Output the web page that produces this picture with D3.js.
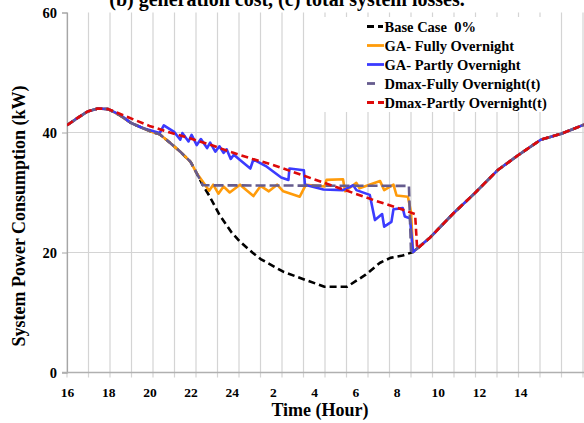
<!DOCTYPE html>
<html>
<head>
<meta charset="utf-8">
<script src="https://cdn.jsdelivr.net/npm/d3@7"></script>
<style>
  body { margin: 0; background: #fff; }
</style>
</head>
<body>
<svg id="chart" width="584" height="423"></svg>
<script>
const svg = d3.select("#chart");
const serif = '"Liberation Serif", "Times New Roman", serif';

// hour of day (16 .. 41 = 16h to 17h next day), kW
const commonStart = [[16, 41.2], [16.5, 42.4], [17, 43.5], [17.5, 44], [18, 43.9]];
const sharedDrop = [[18.5, 43.0], [19.1, 41.6], [19.7, 40.7], [20.2, 40.0], [20.5, 39.7],
  [21, 38.3], [21.5, 36.8], [22, 35.1], [22.3, 33.2]];
const commonEnd = [[32.8, 20.1], [33.6, 22.4], [34.75, 26.5], [35.8, 29.9], [36.9, 33.7],
  [37.9, 36.2], [39, 38.8], [40, 39.8], [41.1, 41.3]];

const baseCase = [[22.6, 31.2], [22.9, 29.5], [23.4, 26.3], [24, 23.3], [24.4, 21.8], [25, 20],
  [25.4, 18.9], [26.5, 16.8], [27.6, 15.4], [28.5, 14.3], [29.6, 14.3], [30.5, 16.3],
  [31.2, 18.3], [31.7, 19.1], [32.3, 19.5]];
const gaFully = [[22.7, 31.3], [22.9, 30.3], [23.1, 31.3], [23.35, 29.8], [23.6, 31], [23.9, 30],
  [24.4, 31.3], [24.7, 30.4], [25.05, 29.4], [25.4, 31.1], [25.8, 30.2], [26.2, 31.3],
  [26.5, 30.2], [27.3, 29.3], [27.6, 31.3], [28.5, 31.0], [28.6, 32.1], [29.4, 32.2],
  [29.5, 30.2], [30.05, 31.6], [30.2, 30.7], [31.2, 31.9], [31.4, 30.4], [31.85, 31.3],
  [32.0, 29.5], [32.55, 29.3], [32.7, 26.8]];
const gaPartly = [[18.6, 42.9], [19.1, 41.6], [19.7, 40.7], [20.5, 39.9], [20.7, 41.2], [21.2, 40.1],
  [21.5, 38.8], [21.6, 39.9], [21.9, 38.5], [22.05, 39.6], [22.3, 37.9], [22.5, 38.9],
  [22.8, 37.4], [22.95, 38.3], [23.2, 36.8], [23.4, 37.7], [23.6, 36.6], [23.75, 37.2],
  [23.95, 35.6], [24.1, 36.3], [24.4, 35.4], [24.9, 34.0], [25.05, 35.5], [25.7, 34.3],
  [26.4, 32.5], [26.75, 32.1], [26.8, 34.0], [27.5, 33.7], [27.55, 31.3], [28.45, 30.5],
  [29.4, 30.4], [29.9, 31.2], [30.05, 30.4], [30.7, 29.6], [30.95, 25.4], [31.3, 26.4],
  [31.4, 24.3], [31.75, 25.1], [31.85, 27.2], [32.3, 27.4], [32.4, 26.0], [32.65, 25.7]];
const dmaxFully = [[22.6, 31.2], [32.6, 31.1], [32.7, 20.3]];
const dmaxPartly = [[18.5, 43.2], [19, 42.5], [20, 41.1], [21, 40], [22, 39], [23, 37.9],
  [24, 36.7], [25, 35.6], [26, 34.6], [27, 33.4], [28, 32.2], [29, 31], [30, 29.8],
  [31, 28.6], [32, 27.5], [32.9, 26.4], [33, 20.6]];

const xTicks = [16, 18, 20, 22, 24, 26, 28, 30, 32, 34, 36, 38];
const yTicks = [0, 20, 40, 60];
const gridCount = 24;

const series = [
  { name: "Base Case  0%", color: "#000000", dash: "7,4", sample: [0, 16],
    values: commonStart.concat(sharedDrop, baseCase, commonEnd) },
  { name: "GA- Fully Overnight", color: "#ff9b0a", dash: null, sample: [0, 17],
    values: commonStart.concat(sharedDrop, gaFully, commonEnd) },
  { name: "GA- Partly Overnight", color: "#3b3bff", dash: null, sample: [0, 17],
    values: commonStart.concat(gaPartly, commonEnd) },
  { name: "Dmax-Fully Overnight(t)", color: "#665c8e", dash: "10,4", sample: [0, 8],
    values: commonStart.concat(sharedDrop, dmaxFully, commonEnd) },
  { name: "Dmax-Partly Overnight(t)", color: "#dd0a0a", dash: "7,4", sample: [0, 17],
    values: commonStart.concat(dmaxPartly, commonEnd.slice(1)) }
];

const plotLeft = 67, plotRight = 584, plotTop = 12.5, plotBottom = 372.5;

const x = d3.scaleLinear().domain([16, 41.1]).range([plotLeft, plotRight]);
const y = d3.scaleLinear().domain([0, 60]).range([plotBottom, plotTop]);
const grid = d3.scaleLinear().domain([0, gridCount]).range([plotLeft, 583]);

// title (cut at the top in the source)
svg.append("text")
  .attr("x", 287).attr("y", 6)
  .attr("text-anchor", "middle")
  .style("font-family", serif).style("font-weight", "bold")
  .style("font-size", "20px")
  .text("(b) generation cost, (c) total system losses.");

// vertical grid lines, also used as x tick marks
svg.append("g")
  .selectAll("line")
  .data(d3.range(gridCount + 1))
  .join("line")
  .attr("x1", d => grid(d)).attr("x2", d => grid(d))
  .attr("y1", plotTop).attr("y2", plotBottom + 5)
  .attr("stroke", "#d4d4d4")
  .attr("stroke-width", 1.2);

// horizontal grid lines
svg.append("g")
  .selectAll("line")
  .data(yTicks.filter(d => d > 0 && d < 60))
  .join("line")
  .attr("x1", plotLeft).attr("x2", plotRight)
  .attr("y1", d => y(d)).attr("y2", d => y(d))
  .attr("stroke", "#d4d4d4")
  .attr("stroke-width", 1.2);

// y axis
const yAxis = svg.append("g")
  .attr("transform", `translate(${plotLeft},0)`)
  .call(d3.axisLeft(y).tickValues(yTicks).tickSize(5).tickPadding(5));
yAxis.select(".domain").attr("stroke", "#a6a6a6").attr("stroke-width", 1.2);
yAxis.selectAll(".tick line").attr("stroke", "#a6a6a6");
yAxis.selectAll(".tick text")
  .style("font-size", "14.5px").style("font-family", serif).style("font-weight", "bold")
  .attr("fill", "#000");

// x axis line
svg.append("line")
  .attr("x1", plotLeft - 5).attr("x2", plotRight)
  .attr("y1", plotBottom).attr("y2", plotBottom)
  .attr("stroke", "#b0b0b0")
  .attr("stroke-width", 1.5);

// x tick labels
const xAxis = svg.append("g")
  .attr("transform", `translate(0,${plotBottom})`)
  .call(d3.axisBottom(x).tickValues(xTicks).tickSize(0).tickPadding(15)
    .tickFormat(d => d > 24 ? d - 24 : d));
xAxis.select(".domain").remove();
xAxis.selectAll(".tick text")
  .style("font-size", "13.5px").style("font-family", serif).style("font-weight", "bold")
  .attr("fill", "#000");

// axis titles
svg.append("text")
  .attr("transform", "translate(25,216) rotate(-90)")
  .attr("text-anchor", "middle")
  .style("font-family", serif).style("font-weight", "bold")
  .style("font-size", "18px")
  .text("System Power Consumption (kW)");

svg.append("text")
  .attr("x", 320).attr("y", 416)
  .attr("text-anchor", "middle")
  .style("font-family", serif).style("font-weight", "bold")
  .style("font-size", "18px")
  .text("Time (Hour)");

// clip
svg.append("clipPath").attr("id", "plot")
  .append("rect")
  .attr("x", plotLeft).attr("y", 0)
  .attr("width", plotRight - plotLeft).attr("height", plotBottom);

const line = d3.line().x(d => x(d[0])).y(d => y(d[1]));

// legend box (covers the grid)
const lg = svg.append("g");
lg.append("rect")
  .attr("x", 322).attr("y", 17)
  .attr("width", 236).attr("height", 95)
  .attr("fill", "#fff");

svg.append("g")
  .attr("clip-path", "url(#plot)")
  .selectAll("path")
  .data(series)
  .join("path")
  .attr("d", d => line(d.values))
  .attr("fill", "none")
  .attr("stroke", d => d.color)
  .attr("stroke-width", 2.6)
  .attr("stroke-dasharray", d => d.dash)
  .attr("stroke-linejoin", "round");

const items = lg.selectAll("g.item")
  .data(series)
  .join("g")
  .attr("class", "item")
  .attr("transform", (d, i) => `translate(367,${26.5 + i * 19})`);

items.append("line")
  .attr("x1", d => d.sample[0]).attr("x2", d => d.sample[1])
  .attr("y1", 0).attr("y2", 0)
  .attr("stroke", d => d.color)
  .attr("stroke-width", 2.8)
  .attr("stroke-dasharray", d => d.dash);

items.append("text")
  .attr("x", 17.5).attr("y", 5)
  .style("font-family", serif).style("font-weight", "bold")
  .style("font-size", "14.5px")
  .style("white-space", "pre")
  .text(d => d.name);
</script>
</body>
</html>
